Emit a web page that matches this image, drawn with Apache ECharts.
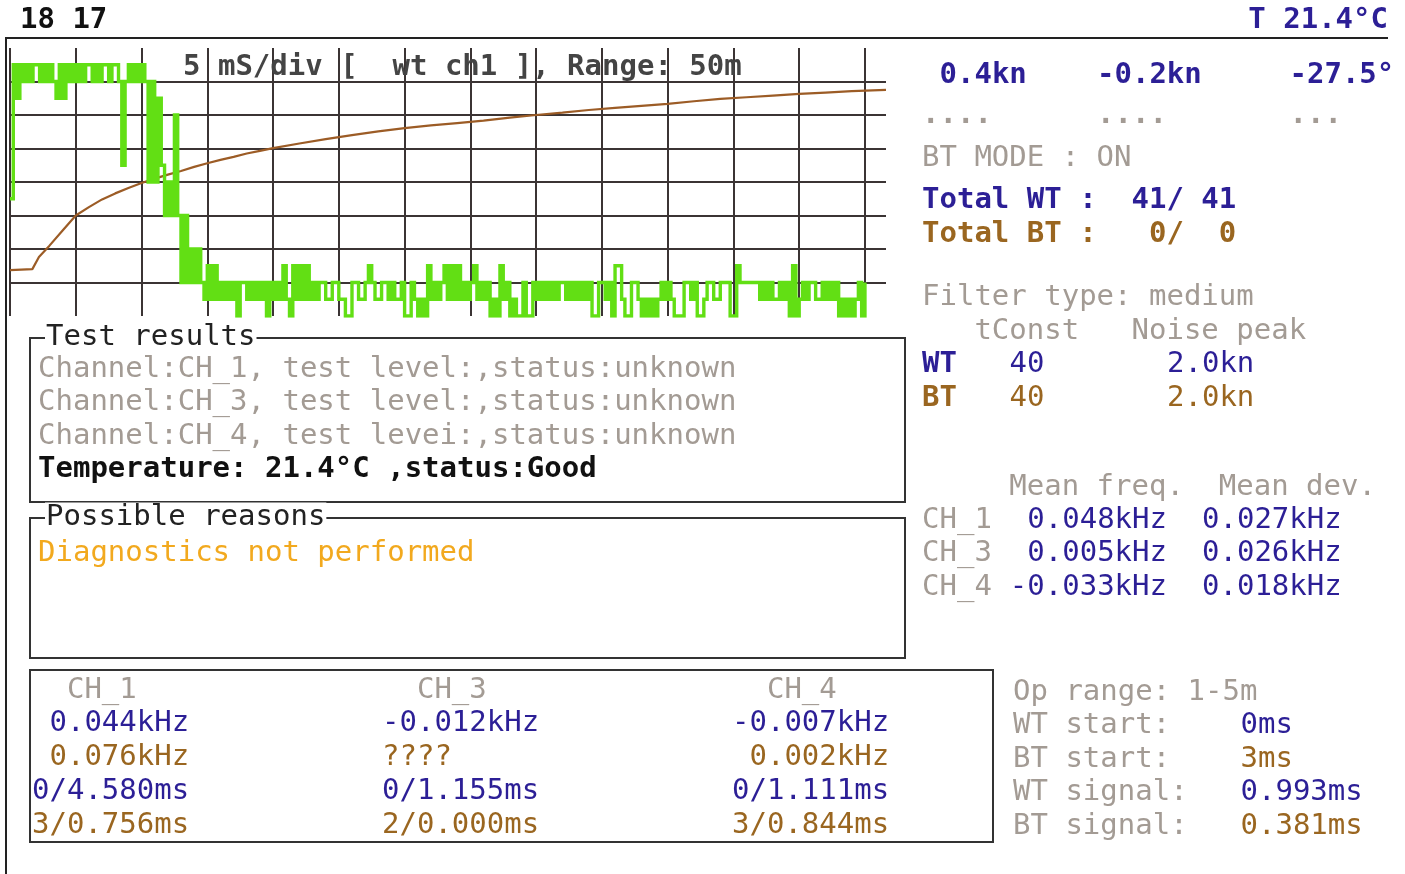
<!DOCTYPE html>
<html>
<head>
<meta charset="utf-8">
<title>wt ch1 diagnostics</title>
<script src="https://cdn.jsdelivr.net/npm/echarts@6.0.0/dist/echarts.min.js"></script>
<style>
  html, body { margin: 0; padding: 0; background: #fff; }
  #main { width: 1405px; height: 874px; }
</style>
</head>
<body>
<div id="main"></div>
<script>
  // ---- scope data (x in ms, y in divisions, 8 div high) ----
  var SAMPLE_MS = 0.25;
  // wt ch1 raw trace, one value per sample, 20 samples per 5 ms division
  var wtTrace = [
    3.5, 7.5, 6.5, 7.5, 7.0, 7.5, 7.0, 7.5, 7.5, 7.0, 7.5, 7.0, 7.5, 7.0, 6.5, 7.5, 6.5, 7.5, 7.0, 7.5,
    7.0, 7.5, 7.0, 7.5, 7.5, 7.0, 7.5, 7.0, 7.5, 7.5, 7.0, 7.5, 7.5, 7.0, 4.5, 7.0, 7.5, 7.0, 7.5, 7.0,
    7.5, 7.0, 4.0, 7.0, 4.0, 6.5, 4.5, 3.0, 4.0, 3.0, 6.0, 3.0, 1.0, 3.0, 1.0, 2.0, 1.0, 2.0, 1.0, 0.5,
    1.5, 0.5, 1.5, 0.5, 1.0, 0.5, 1.0, 0.5, 1.0, 0.0, 1.0, 1.0, 0.5, 1.0, 0.5, 1.0, 0.5, 1.0, 0.0, 1.0,
    0.5, 1.0, 0.5, 1.5, 0.5, 0.0, 1.5, 0.5, 1.5, 0.5, 1.5, 0.5, 1.0, 0.5, 1.0, 1.0, 0.5, 0.5, 1.0, 1.0,
    0.5, 0.5, 0.0, 0.0, 1.0, 1.0, 0.5, 0.5, 1.0, 1.5, 1.0, 0.5, 0.5, 1.0, 1.0, 0.5, 1.0, 0.5, 0.5, 1.0,
    0.0, 0.0, 1.0, 0.5, 0.0, 0.5, 0.0, 1.5, 0.5, 1.0, 0.5, 1.0, 1.5, 0.5, 1.5, 0.5, 1.5, 0.5, 1.0, 0.5,
    1.0, 1.5, 0.5, 1.0, 0.5, 1.0, 0.0, 0.5, 0.0, 1.5, 0.5, 1.0, 0.0, 0.5, 0.0, 0.0, 1.0, 0.0, 0.0, 1.0,
    0.5, 1.0, 0.5, 1.0, 0.5, 1.0, 0.5, 1.0, 1.0, 0.5, 1.0, 0.5, 1.0, 0.5, 1.0, 0.5, 1.0, 0.0, 0.0, 1.0,
    1.0, 0.5, 1.0, 0.0, 1.5, 1.5, 0.5, 0.0, 0.0, 1.0, 1.0, 0.5, 0.0, 0.5, 0.0, 0.5, 0.0, 0.5, 1.0, 0.5,
    1.0, 0.5, 0.0, 0.0, 0.0, 1.0, 1.0, 0.5, 1.0, 0.0, 0.0, 0.5, 1.0, 1.0, 0.5, 0.5, 1.0, 1.0, 1.0, 0.0,
    0.0, 1.5, 1.0, 1.0, 1.0, 1.0, 1.0, 1.0, 0.5, 1.0, 0.5, 1.0, 0.5, 0.5, 1.0, 0.5, 1.0, 0.0, 1.5, 0.0,
    0.5, 1.0, 0.5, 1.0, 1.0, 0.5, 0.5, 1.0, 0.5, 1.0, 0.5, 1.0, 0.0, 0.5, 0.0, 0.5, 0.0, 0.5, 1.0, 0.0,
    1.0
  ];
  // brown (bottom track) curve
  var btTime = [0, 1.7, 2.2, 3, 4, 5, 6, 7, 8, 9, 10, 11, 12, 13, 14, 15, 16, 17, 18, 19, 20,
    22, 24, 26, 28, 30, 32, 34, 36, 38, 40, 42, 44, 46, 48, 50, 52, 54, 56, 58, 60, 62, 64, 66.6];
  var btLevel = [1.37, 1.40, 1.76, 2.10, 2.55, 3.00, 3.25, 3.48, 3.66, 3.82, 3.97, 4.10, 4.22, 4.33, 4.45, 4.56, 4.66, 4.75, 4.85, 4.93, 5.01,
    5.15, 5.28, 5.40, 5.51, 5.61, 5.69, 5.76, 5.83, 5.92, 6.00, 6.07, 6.15, 6.21, 6.27, 6.33, 6.41, 6.48, 6.53, 6.58, 6.63, 6.67, 6.71, 6.75];

  // ---- text data ----
  var headLeft = '18 17';
  var headRight = 'T 21.4°C';
  var scopeTitle = '5 mS/div [  wt ch1 ], Range: 50m';
  var speeds = ['0.4kn', '-0.2kn', '-27.5°'];
  var speedDots = ['....', '....', '...'];
  var btMode = 'BT MODE : ON';
  var totalWT = 'Total WT :  41/ 41';
  var totalBT = 'Total BT :   0/  0';
  var filterType = 'Filter type: medium';
  var filterHead = '   tConst   Noise peak';
  var filterRows = [['WT', '40', '2.0kn'], ['BT', '40', '2.0kn']];
  var meanHead = '     Mean freq.  Mean dev.';
  var meanRows = [['CH_1', '0.048kHz', '0.027kHz'], ['CH_3', '0.005kHz', '0.026kHz'], ['CH_4', '-0.033kHz', '0.018kHz']];
  var testLines = [
    'Channel:CH_1, test level:,status:unknown',
    'Channel:CH_3, test level:,status:unknown',
    'Channel:CH_4, test levei:,status:unknown'
  ];
  var tempLine = 'Temperature: 21.4°C ,status:Good';
  var reasonLine = 'Diagnostics not performed';
  var chCols = [
    ['  CH_1', ' 0.044kHz', ' 0.076kHz', '0/4.580ms', '3/0.756ms'],
    ['  CH_3', '-0.012kHz', '????', '0/1.155ms', '2/0.000ms'],
    ['  CH_4', '-0.007kHz', ' 0.002kHz', '0/1.111ms', '3/0.844ms']
  ];
  var opRange = 'Op range: 1-5m';
  var opRows = [['WT start:', '0ms'], ['BT start:', '3ms'], ['WT signal:', '0.993ms'], ['BT signal:', '0.381ms']];

  var BLUE = '#2c1f96', BROWN = '#9a6620', GRAY = '#a39b94', BLACK = '#111';
  var CW = 17.5; // character cell width

  function txt(x, y, s, color, bold, align) {
    return {
      type: 'text', z: 100, silent: true,
      style: {
        x: x, y: y, text: s, fill: color,
        fontFamily: '"DejaVu Sans Mono", monospace', fontSize: 29,
        fontWeight: bold ? 'bold' : 'normal',
        textAlign: align || 'left', textVerticalAlign: 'middle',
        align: align || 'left', verticalAlign: 'middle'
      }
    };
  }
  function label(x, y, s) {
    var t = txt(x, y, s, '#222', false);
    t.style.backgroundColor = '#fff';
    t.style.padding = [0, 1];
    return t;
  }
  function box(x, y, w, h) {
    return { type: 'rect', z: 50, silent: true, shape: { x: x, y: y, width: w, height: h },
      style: { fill: 'none', stroke: '#333', lineWidth: 2 } };
  }

  var g = [];
  // frame
  g.push({ type: 'line', z: 50, shape: { x1: 5, y1: 38, x2: 1388, y2: 38 }, style: { stroke: '#222', lineWidth: 2 } });
  g.push({ type: 'line', z: 50, shape: { x1: 6, y1: 38, x2: 6, y2: 874 }, style: { stroke: '#222', lineWidth: 2 } });
  g.push(txt(20, 20, headLeft, BLACK, true));
  g.push(txt(1388, 20, headRight, BLUE, true, 'right'));
  g.push(txt(183, 67, scopeTitle, '#444', true));

  // right panel
  var rx = 922;
  [1, 10, 21].forEach(function (c, i) {
    g.push(txt(rx + c * CW, 75, speeds[i], BLUE, true));
    g.push(txt(rx + (c - 1 + (i ? 1 : 0)) * CW, 115, speedDots[i], GRAY, true));
  });
  g.push(txt(rx, 158, btMode, GRAY, false));
  g.push(txt(rx, 200, totalWT, BLUE, true));
  g.push(txt(rx, 234, totalBT, BROWN, true));
  g.push(txt(rx, 297, filterType, GRAY, false));
  g.push(txt(rx, 331, filterHead, GRAY, false));
  filterRows.forEach(function (r, i) {
    var c = i ? BROWN : BLUE;
    g.push(txt(rx, 364 + i * 34, r[0], c, true));
    g.push(txt(rx + 5 * CW, 364 + i * 34, r[1], c, false));
    g.push(txt(rx + 14 * CW, 364 + i * 34, r[2], c, false));
  });
  g.push(txt(rx, 487, meanHead, GRAY, false));
  meanRows.forEach(function (r, i) {
    var y = 520 + i * 33.5;
    g.push(txt(rx, y, r[0], GRAY, false));
    g.push(txt(rx + 14 * CW, y, r[1], BLUE, false, 'right'));
    g.push(txt(rx + 16 * CW, y, r[2], BLUE, false));
  });

  // test results
  g.push(box(30, 338, 875, 164));
  g.push(label(45, 337, 'Test results'));
  testLines.forEach(function (s, i) {
    g.push(txt(38, 369 + i * 33.5, s, GRAY, false));
  });
  g.push(txt(38, 469, tempLine, BLACK, true));

  // possible reasons
  g.push(box(30, 518, 875, 140));
  g.push(label(45, 517, 'Possible reasons'));
  g.push(txt(38, 553, reasonLine, '#f2a91e', false));

  // channel table
  g.push(box(30, 670, 963, 172));
  var rowColors = [GRAY, BLUE, BROWN, BLUE, BROWN];
  chCols.forEach(function (col, ci) {
    col.forEach(function (s, ri) {
      g.push(txt(32 + ci * 20 * CW, 690 + ri * 33.8, s, rowColors[ri], false));
    });
  });

  // op range block
  var ox = 1013;
  g.push(txt(ox, 692, opRange, GRAY, false));
  opRows.forEach(function (r, i) {
    var y = 725.5 + i * 33.7;
    g.push(txt(ox, y, r[0], GRAY, false));
    g.push(txt(ox + 13 * CW, y, r[1], i % 2 ? BROWN : BLUE, false));
  });

  var wtData = wtTrace.map(function (v, i) { return [i * SAMPLE_MS, v]; });
  var btData = btTime.map(function (t, i) { return [t, btLevel[i]]; });

  var myChart = echarts.init(document.getElementById('main'));
  var option = {
    backgroundColor: '#fff',
    animation: false,
    grid: { left: 10, top: 48, width: 876, height: 268 },
    xAxis: {
      type: 'value', min: 0, max: 66.6, interval: 5,
      axisLine: { show: false }, axisTick: { show: false }, axisLabel: { show: false },
      splitLine: { show: true, showMinLine: true, showMaxLine: false, lineStyle: { color: '#3b3434', width: 2 } }
    },
    yAxis: {
      type: 'value', min: 0, max: 8, interval: 1,
      axisLine: { show: false }, axisTick: { show: false }, axisLabel: { show: false },
      splitLine: { show: true, showMinLine: false, showMaxLine: false, lineStyle: { color: '#3b3434', width: 2 } }
    },
    series: [{
      name: 'bt',
      type: 'line',
      data: btData,
      symbol: 'none',
      lineStyle: { color: '#9c5c26', width: 2.2 },
      z: 3
    }, {
      name: 'wt ch1',
      type: 'line',
      step: 'end',
      data: wtData,
      symbol: 'none',
      lineStyle: { color: '#62df14', width: 3.4, join: 'miter', cap: 'butt' },
      z: 4
    }],
    graphic: g
  };
  myChart.setOption(option);
</script>
</body>
</html>
